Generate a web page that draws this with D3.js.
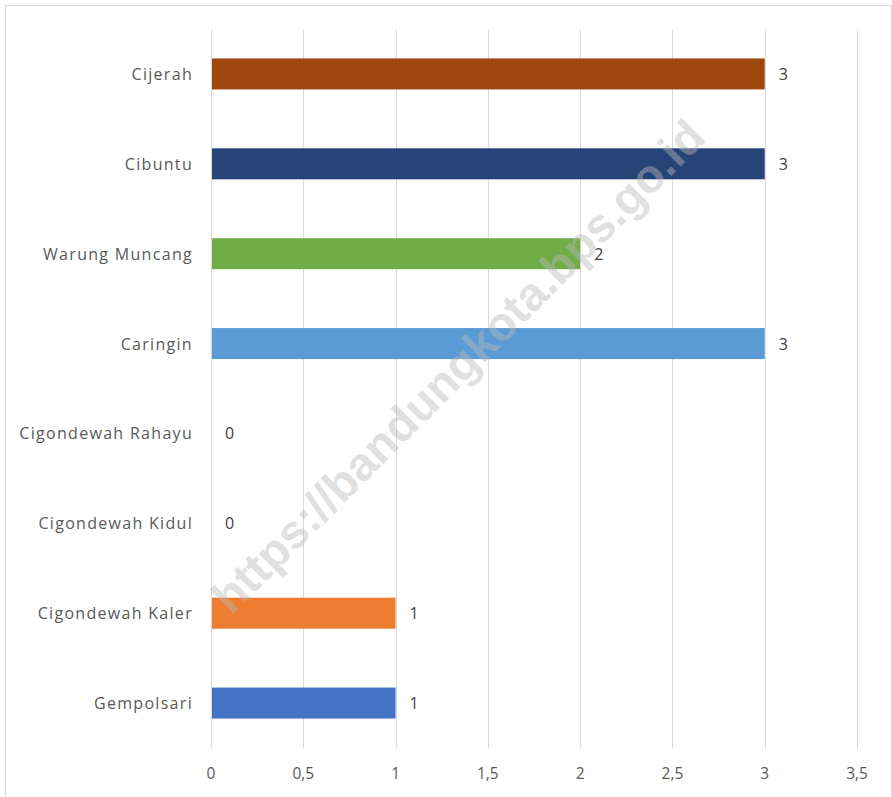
<!DOCTYPE html>
<html>
<head>
<meta charset="utf-8">
<script src="https://cdn.jsdelivr.net/npm/d3@7"></script>
<style>
  html, body { margin: 0; padding: 0; background: #fff; }
  svg { display: block; }
</style>
</head>
<body>
<script>
const categories = ["Cijerah", "Cibuntu", "Warung Muncang", "Caringin", "Cigondewah Rahayu", "Cigondewah Kidul", "Cigondewah Kaler", "Gempolsari"];
const values = [3, 3, 2, 3, 0, 0, 1, 1];
const colors = ["#9E480E", "#264478", "#70AD47", "#5B9BD5", "#A5A5A5", "#FFC000", "#ED7D31", "#4472C4"];
const tickValues = [0, 0.5, 1, 1.5, 2, 2.5, 3, 3.5];
const tickLabels = ["0", "0,5", "1", "1,5", "2", "2,5", "3", "3,5"];
const watermark = "https://bandungkota.bps.go.id";

const W = 892, H = 797;
const svg = d3.select("body").append("svg").attr("width", W).attr("height", H);

// chart border
svg.append("rect").attr("x", 5.5).attr("y", 5.5).attr("width", W - 6).attr("height", H + 10)
  .attr("fill", "#fff").attr("stroke", "#d9d9d9").attr("stroke-width", 1);

const plot = { left: 211, right: 857, top: 29, bottom: 748 };
const x = d3.scaleLinear().domain([0, 3.5]).range([plot.left, plot.right]);
const y = d3.scaleBand().domain(categories).range([plot.top, plot.bottom]).padding(0);
const barH = y.bandwidth() * 0.345;

const font = "'Open Sans', Lato, sans-serif";

// gridlines
svg.append("g").selectAll("line").data(tickValues).join("line")
  .attr("x1", d => Math.round(x(d)) + 0.5).attr("x2", d => Math.round(x(d)) + 0.5)
  .attr("y1", plot.top).attr("y2", plot.bottom)
  .attr("stroke", "#d9d9d9").attr("stroke-width", 1);

// x tick labels
svg.append("g").selectAll("text").data(tickValues).join("text")
  .attr("x", d => x(d)).attr("y", 773)
  .attr("text-anchor", "middle").attr("dominant-baseline", "central")
  .attr("font-family", font).attr("font-size", 15.5).attr("fill", "#595959")
  .text((d, i) => tickLabels[i]);

// bars
svg.append("g").selectAll("rect").data(categories).join("rect")
  .attr("x", x(0) + 1)
  .attr("y", d => y(d) + y.bandwidth() / 2 - barH / 2)
  .attr("width", (d, i) => Math.max(0, x(values[i]) - x(0) - 1))
  .attr("height", barH)
  .attr("fill", (d, i) => colors[i]);

// category labels
svg.append("g").selectAll("text").data(categories).join("text")
  .attr("x", plot.left - 18)
  .attr("y", d => y(d) + y.bandwidth() / 2)
  .attr("text-anchor", "end").attr("dominant-baseline", "central")
  .attr("font-family", font).attr("font-size", 16).attr("letter-spacing", 1.3).attr("fill", "#595959")
  .text(d => d);

// data labels
svg.append("g").selectAll("text").data(categories).join("text")
  .attr("x", (d, i) => x(values[i]) + 14)
  .attr("y", d => y(d) + y.bandwidth() / 2)
  .attr("text-anchor", "start").attr("dominant-baseline", "central")
  .attr("font-family", font).attr("font-size", 16).attr("fill", "#404040")
  .text((d, i) => values[i]);

// watermark
svg.append("text")
  .attr("transform", "translate(458,366) rotate(-45)")
  .attr("text-anchor", "middle").attr("dominant-baseline", "central")
  .attr("font-family", "'Liberation Sans', Arial, sans-serif").attr("font-weight", "bold")
  .attr("font-size", 47).attr("fill", "rgba(185,185,185,0.45)")
  .text(watermark);
</script>
</body>
</html>
